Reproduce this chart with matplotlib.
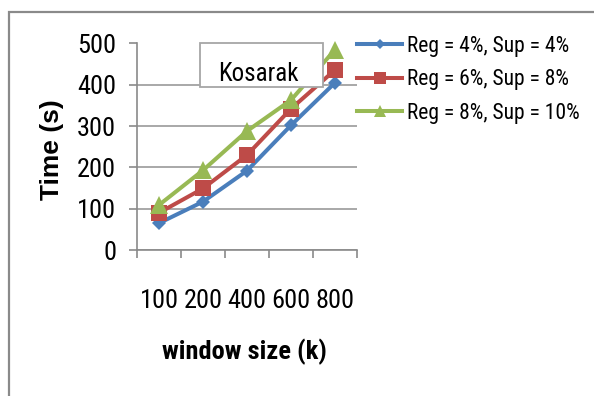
import matplotlib
matplotlib.use("Agg")
import matplotlib.pyplot as plt
from matplotlib import font_manager
from matplotlib.patches import Rectangle

# Data
window_sizes = ["100", "200", "400", "600", "800"]
series_labels = ["Reg = 4%, Sup = 4%", "Reg = 6%, Sup = 8%", "Reg = 8%, Sup = 10%"]
time_reg4 = [65, 117, 192, 302, 405]
time_reg6 = [90, 149, 230, 342, 436]
time_reg8 = [109, 193, 288, 363, 485]
y_ticks = [0, 100, 200, 300, 400, 500]
dataset_name = "Kosarak"


def pick_condensed():
    """Return (family, stretch) of an installed narrow sans face, or None."""
    entries = font_manager.fontManager.ttflist
    prefs = ["Liberation Sans Narrow", "Arial Narrow", "Roboto Condensed",
             "Open Sans Condensed", "Noto Sans Condensed", "DejaVu Sans Condensed"]
    names = {f.name for f in entries}
    for p in prefs:
        if p in names:
            return p, "normal"
    for f in entries:
        st = str(f.stretch).lower()
        if "condensed" in st and "extra" not in st and "ultra" not in st:
            if f.name in ("Roboto", "Noto Sans", "Open Sans", "DejaVu Sans", "Liberation Sans"):
                return f.name, f.stretch
    return None


cond = pick_condensed()
if cond:
    fam, stretch = cond
    k = 1.0
else:
    fam, stretch = "Liberation Sans", "normal"
    k = 0.84
plt.rcParams["font.family"] = [fam, "DejaVu Sans"]
plt.rcParams["font.stretch"] = stretch

W, H = 594, 396
fig = plt.figure(figsize=(W / 100, H / 100), dpi=100)


def fx(px):
    return px / W


def fy(py):
    return 1 - py / H


# outer chart frame (top and left edges visible)
fig.add_artist(Rectangle((fx(9), fy(500)), fx(700), fy(12) - fy(500),
                         transform=fig.transFigure, fill=False,
                         edgecolor="#8a8a8a", linewidth=1.6, zorder=1))

ax = fig.add_axes([fx(137), fy(250), fx(357) - fx(137), fy(43.5) - fy(250)])

colors = ["#4a7ebb", "#be4b48", "#98b954"]
markers = ["D", "s", "^"]
msizes = [7.5, 12, 13]
x = list(range(len(window_sizes)))
for vals, c, m, ms, lab in zip([time_reg4, time_reg6, time_reg8], colors,
                               markers, msizes, series_labels):
    ax.plot(x, vals, color=c, marker=m, markersize=ms, linewidth=2.9,
            markeredgewidth=0, label=lab, zorder=3, clip_on=False)

ax.set_xlim(-0.5, len(window_sizes) - 0.5)
ax.set_ylim(0, 500)
ax.set_yticks(y_ticks)
ax.set_xticks(x)
ax.set_xticklabels(window_sizes)
ax.set_xticks([i - 0.5 for i in range(len(window_sizes) + 1)], minor=True)
ax.yaxis.grid(True, color="#9a9a9a", linewidth=1.2)
ax.set_axisbelow(True)

for s in ["top", "right"]:
    ax.spines[s].set_visible(False)
for s in ["left", "bottom"]:
    ax.spines[s].set_color("#8a8a8a")
    ax.spines[s].set_linewidth(1.2)

tick_fs = 19 * k
ax.tick_params(axis="x", which="major", length=0, labelsize=tick_fs,
               pad=28 + (19 - tick_fs) * 0.5)
ax.tick_params(axis="x", which="minor", length=6, color="#8a8a8a", width=1.2)
ax.tick_params(axis="y", length=6, color="#8a8a8a", width=1.2,
               labelsize=tick_fs, pad=9)

fig.text(fx(244), fy(352), "window size (k)", ha="center", va="center",
         fontsize=19 * k, fontweight="bold")
fig.text(fx(52), fy(150), "Time (s)", rotation=90, ha="center", va="center",
         fontsize=19, fontweight="bold",
         family=["Liberation Sans", "DejaVu Sans"], fontstretch="normal")

# dataset caption box
fig.add_artist(Rectangle((fx(200), fy(87)), fx(123), fy(43) - fy(87),
                         transform=fig.transFigure, facecolor="white",
                         edgecolor="#a6a6a6", linewidth=1.3, zorder=5))
fig.text(fx(258), fy(74), dataset_name, ha="center", va="center",
         fontsize=18 * k, zorder=6)

handles, labels = ax.get_legend_handles_labels()
fig.legend(handles, labels, loc="upper left",
           bbox_to_anchor=(fx(357), fy(36)), frameon=False, fontsize=15.5 * k,
           handlelength=2.1 / k, handletextpad=0.2, labelspacing=0.58 / k,
           markerscale=0.7, borderpad=0, borderaxespad=0)

fig.savefig("out.png", dpi=100)
